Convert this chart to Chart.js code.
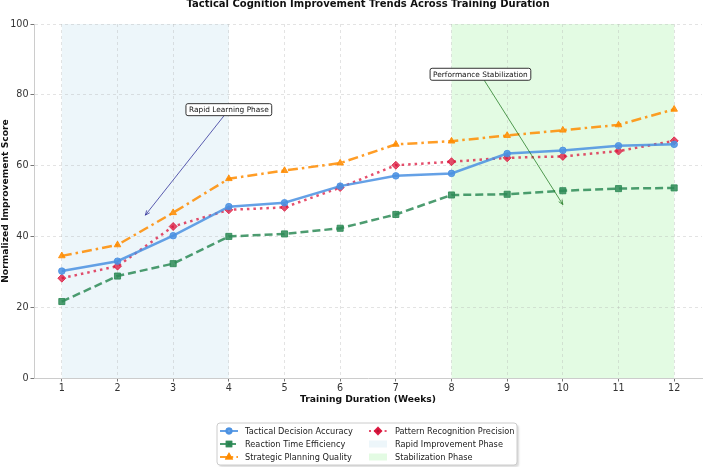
<!DOCTYPE html>
<html>
<head>
<meta charset="utf-8">
<script src="https://cdn.jsdelivr.net/npm/chart.js@4.4.1/dist/chart.umd.min.js"></script>
<style>
  html, body { margin: 0; padding: 0; background: #fff; }
</style>
</head>
<body>
<canvas id="chart" width="703" height="467"></canvas>
<script>
const weeks = [1, 2, 3, 4, 5, 6, 7, 8, 9, 10, 11, 12];
const tacticalAccuracy = [30.2, 33.0, 40.2, 48.4, 49.5, 54.2, 57.1, 57.8, 63.4, 64.3, 65.6, 66.0];
const reactionEfficiency = [21.6, 28.8, 32.3, 40.0, 40.7, 42.3, 46.2, 51.7, 51.9, 52.9, 53.5, 53.7];
const planningQuality = [34.5, 37.6, 46.7, 56.3, 58.6, 60.7, 66.0, 66.9, 68.5, 70.0, 71.5, 75.9];
const patternPrecision = [28.2, 31.6, 42.8, 47.5, 48.2, 53.8, 60.1, 61.1, 62.2, 62.6, 64.1, 67.0];
const yTicks = [0, 20, 40, 60, 80, 100];

const phases = [
  { label: "Rapid Improvement Phase", from: 1, to: 4, color: "rgba(173, 216, 230, 0.22)" },
  { label: "Stabilization Phase", from: 8, to: 12, color: "rgba(144, 238, 144, 0.25)" }
];

const notes = [
  { text: "Rapid Learning Phase", x: 4.0, y: 75.8, toX: 2.5, toY: 46, color: "rgba(40, 40, 150, 0.75)" },
  { text: "Performance Stabilization", x: 8.52, y: 85.8, toX: 10, toY: 49, color: "rgba(30, 120, 30, 0.75)" }
];

const font = "'DejaVu Sans', sans-serif";

const toPoints = vals => vals.map((v, i) => ({ x: weeks[i], y: v }));

const phaseShading = {
  id: "phaseShading",
  beforeDraw(chart) {
    const { ctx, chartArea, scales } = chart;
    ctx.save();
    phases.forEach(p => {
      const x1 = scales.x.getPixelForValue(p.from);
      const x2 = scales.x.getPixelForValue(p.to);
      ctx.fillStyle = p.color;
      ctx.fillRect(x1, chartArea.top, x2 - x1, chartArea.bottom - chartArea.top);
    });
    ctx.restore();
  }
};

const callouts = {
  id: "callouts",
  afterDatasetsDraw(chart) {
    const { ctx, scales } = chart;
    ctx.save();
    ctx.font = "7.4px " + font;
    notes.forEach(n => {
      const cx = scales.x.getPixelForValue(n.x);
      const cy = scales.y.getPixelForValue(n.y);
      const hx = scales.x.getPixelForValue(n.toX);
      const hy = scales.y.getPixelForValue(n.toY);
      ctx.strokeStyle = n.color;
      ctx.lineWidth = 1;
      ctx.beginPath();
      ctx.moveTo(cx, cy);
      ctx.lineTo(hx, hy);
      ctx.stroke();
      const ang = Math.atan2(hy - cy, hx - cx);
      ctx.beginPath();
      ctx.moveTo(hx - 5 * Math.cos(ang - 0.4), hy - 5 * Math.sin(ang - 0.4));
      ctx.lineTo(hx, hy);
      ctx.lineTo(hx - 5 * Math.cos(ang + 0.4), hy - 5 * Math.sin(ang + 0.4));
      ctx.stroke();
      const w = ctx.measureText(n.text).width + 6;
      const h = 12;
      ctx.beginPath();
      ctx.roundRect(cx - w / 2, cy - h / 2, w, h, 2);
      ctx.fillStyle = "#fff";
      ctx.fill();
      ctx.strokeStyle = "#333";
      ctx.stroke();
      ctx.fillStyle = "#111";
      ctx.textAlign = "center";
      ctx.textBaseline = "middle";
      ctx.fillText(n.text, cx, cy + 0.5);
    });
    ctx.restore();
  }
};

const boxLegend = {
  id: "boxLegend",
  afterDraw(chart) {
    const { ctx } = chart;
    const ds = chart.data.datasets;
    const items = ds.map(d => ({ type: "line", d }))
      .concat(phases.map(p => ({ type: "patch", p })));
    const left = 217, top = 423, width = 300, height = 42;
    ctx.save();
    ctx.shadowColor = "rgba(0,0,0,0.15)";
    ctx.shadowOffsetX = 2;
    ctx.shadowOffsetY = 2;
    ctx.shadowBlur = 2;
    ctx.beginPath();
    ctx.roundRect(left, top, width, height, 3);
    ctx.fillStyle = "#fff";
    ctx.fill();
    ctx.shadowColor = "transparent";
    ctx.strokeStyle = "#cccccc";
    ctx.lineWidth = 1;
    ctx.stroke();
    ctx.font = "8.2px " + font;
    ctx.textBaseline = "middle";
    ctx.textAlign = "left";
    items.forEach((it, i) => {
      const col = Math.floor(i / 3);
      const row = i % 3;
      const sx = col === 0 ? 220 : 369;
      const tx = col === 0 ? 245 : 395;
      const y = 431 + row * 13;
      if (it.type === "line") {
        const d = it.d;
        ctx.strokeStyle = d.borderColor;
        ctx.lineWidth = 2;
        ctx.setLineDash((d.borderDash || []).map(v => v * 0.8));
        ctx.beginPath();
        ctx.moveTo(sx, y);
        ctx.lineTo(sx + 18, y);
        ctx.stroke();
        ctx.setLineDash([]);
        Chart.helpers.drawPoint(ctx, {
          pointStyle: d.pointStyle, radius: d.pointRadius * 0.75, rotation: 0, borderWidth: 1
        }, sx + 9, y);
        ctx.fillStyle = d.pointBackgroundColor;
        ctx.strokeStyle = d.pointBackgroundColor;
        ctx.fill();
        ctx.stroke();
      } else {
        ctx.fillStyle = it.p.color;
        ctx.fillRect(sx, y - 3.5, 18, 7);
      }
      ctx.fillStyle = "#222";
      ctx.fillText(it.d ? it.d.label : it.p.label, tx, y + 0.5);
    });
    ctx.restore();
  }
};

new Chart(document.querySelector("#chart"), {
  type: "line",
  data: {
    datasets: [
      {
        label: "Tactical Decision Accuracy",
        data: toPoints(tacticalAccuracy),
        borderColor: "rgba(74, 144, 226, 0.85)",
        backgroundColor: "rgba(74, 144, 226, 0.85)",
        pointBackgroundColor: "rgba(74, 144, 226, 0.85)",
        pointBorderColor: "rgba(74, 144, 226, 0.85)",
        borderWidth: 2.5,
        pointStyle: "circle",
        pointRadius: 3.3,
        pointBorderWidth: 1,
        tension: 0
      },
      {
        label: "Reaction Time Efficiency",
        data: toPoints(reactionEfficiency),
        borderColor: "rgba(46, 139, 87, 0.85)",
        backgroundColor: "rgba(46, 139, 87, 0.85)",
        pointBackgroundColor: "rgba(46, 139, 87, 0.85)",
        pointBorderColor: "rgba(46, 139, 87, 0.85)",
        borderWidth: 2.5,
        borderDash: [8, 4],
        pointStyle: "rect",
        pointRadius: 4.3,
        pointBorderWidth: 1,
        tension: 0
      },
      {
        label: "Strategic Planning Quality",
        data: toPoints(planningQuality),
        borderColor: "rgba(255, 140, 0, 0.85)",
        backgroundColor: "rgba(255, 140, 0, 0.85)",
        pointBackgroundColor: "rgba(255, 140, 0, 0.85)",
        pointBorderColor: "rgba(255, 140, 0, 0.85)",
        borderWidth: 2.5,
        borderDash: [10, 4, 2.5, 4],
        pointStyle: "triangle",
        pointRadius: 3.8,
        pointBorderWidth: 1,
        tension: 0
      },
      {
        label: "Pattern Recognition Precision",
        data: toPoints(patternPrecision),
        borderColor: "rgba(220, 20, 60, 0.75)",
        backgroundColor: "rgba(220, 20, 60, 0.75)",
        pointBackgroundColor: "rgba(220, 20, 60, 0.75)",
        pointBorderColor: "rgba(220, 20, 60, 0.75)",
        borderWidth: 2.5,
        borderDash: [2.5, 4],
        pointStyle: "rectRot",
        pointRadius: 4,
        pointBorderWidth: 1,
        tension: 0
      }
    ]
  },
  options: {
    responsive: false,
    animation: false,
    layout: { autoPadding: false, padding: { top: 0, right: 1, bottom: 62, left: 0 } },
    scales: {
      x: {
        type: "linear",
        min: 0.5,
        max: 12.5,
        afterBuildTicks: s => { s.ticks = weeks.map(v => ({ value: v })); },
        afterFit: s => { s.height = 27; s.paddingLeft = 0; s.paddingRight = 0; },
        ticks: { color: "#333", font: { family: font, size: 9.6 }, padding: 1 },
        grid: { color: "rgba(176, 176, 176, 0.35)", tickLength: 3.5, tickColor: "#777" },
        border: { color: "#cccccc", dash: [3, 3] },
        title: {
          display: true,
          text: "Training Duration (Weeks)",
          color: "#111",
          font: { family: font, size: 9.2, weight: "bold" },
          padding: { top: 1, bottom: 0 }
        }
      },
      y: {
        min: 0,
        max: 100,
        afterBuildTicks: s => { s.ticks = yTicks.map(v => ({ value: v })); },
        afterFit: s => { s.width = 34; },
        ticks: { color: "#333", font: { family: font, size: 9.6 }, padding: 2 },
        grid: { color: "rgba(176, 176, 176, 0.35)", tickLength: 3.5, tickColor: "#777" },
        border: { color: "#cccccc", dash: [3, 3] },
        title: {
          display: true,
          text: "Normalized Improvement Score",
          color: "#111",
          font: { family: font, size: 9.2, weight: "bold" },
          padding: { top: 0, bottom: 2 }
        }
      }
    },
    plugins: {
      legend: { display: false },
      tooltip: { enabled: false },
      title: {
        display: true,
        fullSize: false,
        text: "Tactical Cognition Improvement Trends Across Training Duration",
        color: "#111",
        font: { family: font, size: 10, weight: "bold" },
        padding: { top: -2, bottom: 14 }
      }
    }
  },
  plugins: [phaseShading, callouts, boxLegend]
});
</script>
</body>
</html>
